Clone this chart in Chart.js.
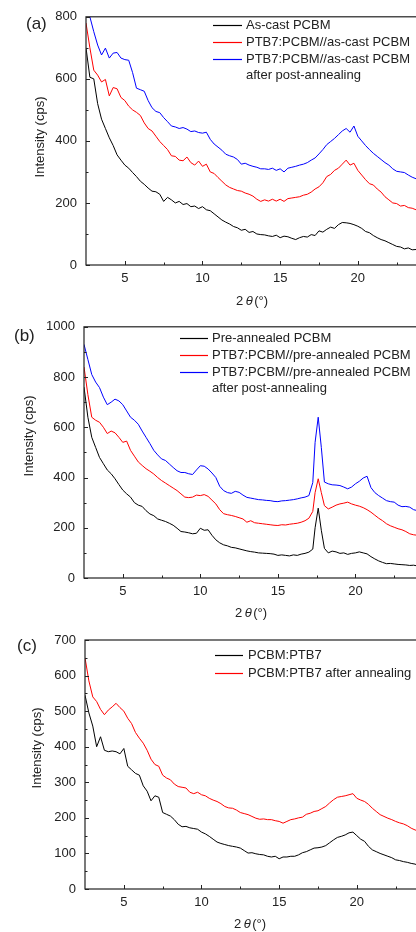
<!DOCTYPE html>
<html>
<head>
<meta charset="utf-8">
<script src="https://cdn.jsdelivr.net/npm/chart.js@4.4.0/dist/chart.umd.min.js"></script>
<style>
  html, body { margin: 0; padding: 0; background: #fff; width: 416px; height: 932px; overflow: hidden; }
  canvas { position: absolute; left: 0; }
</style>
</head>
<body>
<canvas id="ca" width="460" height="310" style="top:0px"></canvas>
<canvas id="cb" width="460" height="310" style="top:310px"></canvas>
<canvas id="cc" width="460" height="312" style="top:620px"></canvas>
<script>
// 2theta grid (deg) for panels a and c
const twoTheta = [2.5, 2.75,
  3, 3.25, 3.5, 3.75, 4, 4.25, 4.5, 4.75, 5, 5.25, 5.5, 5.75, 6, 6.25, 6.5, 6.75,
  7, 7.25, 7.5, 7.75, 8, 8.25, 8.5, 8.75, 9, 9.25, 9.5, 9.75, 10, 10.25, 10.5, 10.75,
  11, 11.25, 11.5, 11.75, 12, 12.25, 12.5, 12.75, 13, 13.25, 13.5, 13.75, 14, 14.25, 14.5, 14.75,
  15, 15.25, 15.5, 15.75, 16, 16.25, 16.5, 16.75, 17, 17.25, 17.5, 17.75, 18, 18.25, 18.5, 18.75,
  19, 19.25, 19.5, 19.75, 20, 20.25, 20.5, 20.75, 21, 21.25, 21.5, 21.75, 22, 22.25, 22.5, 22.75,
  23, 23.25, 23.5, 23.75, 24];

// panel b has a sharp peak near 17.6, so a few more points there
const twoThetaB = [2.5, 2.75,
  3, 3.25, 3.5, 3.75, 4, 4.25, 4.5, 4.75, 5, 5.25, 5.5, 5.75, 6, 6.25, 6.5, 6.75,
  7, 7.25, 7.5, 7.75, 8, 8.25, 8.5, 8.75, 9, 9.25, 9.5, 9.75, 10, 10.25, 10.5, 10.75,
  11, 11.25, 11.5, 11.75, 12, 12.25, 12.5, 12.75, 13, 13.25, 13.5, 13.75, 14, 14.25, 14.5, 14.75,
  15, 15.25, 15.5, 15.75, 16, 16.25, 16.5, 16.75, 17, 17.25, 17.4, 17.6, 17.8,
  18, 18.25, 18.5, 18.75, 19, 19.25, 19.5, 19.75, 20, 20.25, 20.5, 20.75,
  21, 21.25, 21.5, 21.75, 22, 22.25, 22.5, 22.75, 23, 23.25, 23.5, 23.75, 24];

// (a)
const asCastPCBM = [700, 605,
  600, 520, 470, 440,  410, 385, 355, 338,  322, 312, 298, 285,  270, 260, 248, 238,
  236, 228, 205, 218,  210, 200, 205, 195,  198, 188, 190, 182,  188, 178, 175, 165,
  155, 145, 138, 132,  124, 120, 112, 115,  105, 108, 100, 98,   97, 94, 92, 96,
  88, 93, 91, 86,      82, 88, 92, 90,      98, 95, 110, 106,    115, 122, 118, 130,
  137, 136, 134, 130,  125, 118, 108, 104,  95, 88, 82, 78,     72, 66, 60, 58,
  52, 55, 49, 50,  46];
const bilayerAsCast = [780, 700,
  628, 612, 590, 598,  545, 572, 568, 540,  530, 512, 500, 492,  482, 458, 440, 432,
  415, 398, 385, 372,  352, 350, 338, 336,  348, 330, 322, 335,  318, 325, 300, 295,
  282, 270, 258, 250,  245, 240, 238, 232,  228, 222, 212, 205,  210, 206, 212, 206,
  212, 205, 214, 216,  218, 220, 225, 228,  235, 245, 252, 265,  285, 292, 305, 312,
  325, 338, 322, 328,  305, 290, 275, 262,  258, 245, 235, 220,  210, 200, 198, 190,
  192, 185, 183, 178,  178];
const bilayerAsCastAnnealed = [860, 800,
  752, 709, 677, 699,  667, 683, 685, 667,  662, 660, 620, 570,  565, 560, 530, 507,
  495, 491, 475, 462,  448, 445, 440, 443,  438, 430, 432, 427,  425, 428, 405, 390,
  380, 370, 357, 352,  348, 340, 325, 328,  322, 318, 315, 310,  310, 308, 312, 305,
  310, 300, 312, 315,  318, 322, 325, 330,  338, 345, 358, 372,  388, 398, 408, 420,
  432, 440, 428, 448,  415, 400, 385, 372,  360, 350, 340, 330,  322, 310, 302, 300,
  298, 290, 283, 278,  272];

// (b)
const preAnnealedPCBM = [760, 640,
  560, 520, 480, 455,  430, 415, 395, 372,  350, 335, 322, 300,  290, 285, 268, 255,
  248, 235, 230, 225,  218, 210, 198, 185,  183, 180, 176, 178,  198, 190, 192, 170,
  152, 140, 132, 128,  122, 120, 116, 112,  108, 105, 103, 100,  99, 98, 97, 95,
  90, 92, 90, 88,      92, 90, 95, 98,      103, 115, 200, 278, 190,
  118, 100, 107, 104,  98, 100, 94, 98,     100, 104, 100, 96,
  85, 76, 68, 62,      57, 58, 56, 54,      53, 52, 50, 51,  48];
const bilayerPre = [840, 730,
  640, 628, 620, 600,  575, 585, 578, 560,  540, 545, 508, 485,  462, 448, 435, 425,
  414, 400, 388, 378,  368, 358, 348, 335,  322, 320, 322, 330,  328, 332, 325, 310,
  295, 272, 256, 252,  249, 245, 240, 235,  222, 228, 220, 218,  216, 214, 212, 210,
  209, 212, 211, 214,  216, 218, 222, 228,  238, 265, 340, 395, 340,
  288, 275, 282, 290,  295, 298, 302, 295,  290, 286, 280, 272,
  262, 250, 238, 228,  216, 208, 202, 196,  192, 185, 176, 172,  170];
const bilayerPreAnnealed = [930, 870,
  810, 780, 758, 720,  690, 700, 712, 705,  690, 665, 640, 628,  612, 585, 560, 535,
  508, 490, 474, 468,  454, 440, 427, 420,  420, 415, 412, 430,  447, 445, 434, 418,
  400, 365, 348, 340,  337, 345, 341, 330,  321, 318, 315, 312,  311, 309, 308, 305,
  304, 307, 308, 310,  312, 315, 319, 322,  328, 380, 540, 640, 520,
  382, 375, 371, 370,  368, 362, 355, 362,  375, 385, 398, 405,
  360, 340, 328, 318,  308, 304, 302, 290,  284, 285, 282, 272,  268];

// (c)
const blend = [545, 495,
  458, 400, 428, 390,  386, 388, 386, 380,  395, 345, 335, 325,  320, 290, 275, 248,
  262, 258, 215, 210,  205, 195, 182, 175,  176, 172, 170, 168,  160, 155, 148, 140,
  132, 128, 125, 122,  120, 118, 115, 108,  101, 102, 99, 97,    96, 92, 90, 92,
  85, 90, 90, 92,      92, 96, 102, 105,    110, 115, 116, 118,  122, 130, 138, 145,
  148, 152, 158, 160,  150, 140, 134, 120,  110, 105, 100, 96,   92, 88, 82, 80,
  77, 75, 72, 70,  65];
const blendAnnealed = [650, 585,
  540, 527, 505, 490,  503, 512, 522, 510,  500, 480, 465, 440,  424, 410, 390, 365,
  350, 345, 320, 312,  307, 295, 288, 286,  284, 272, 268, 272,  265, 262, 255, 250,
  246, 240, 232, 228,  227, 222, 215, 212,  209, 204, 199, 196,  197, 195, 195, 192,
  190, 185, 190, 195,  197, 200, 202, 210,  213, 218, 220, 226,  232, 242, 251, 258,
  260, 262, 265, 268,  255, 250, 246, 238,  227, 218, 209, 204,  199, 195, 190, 186,
  183, 178, 171, 166,  162];

const xTicks = [5, 10, 15, 20, 25];
const xMinor = [7.5, 12.5, 17.5, 22.5];
const yTicksA = [0, 200, 400, 600, 800];
const yMinorA = [100, 300, 500, 700];
const yTicksB = [0, 200, 400, 600, 800, 1000];
const yMinorB = [100, 300, 500, 700, 900];
const yTicksC = [0, 100, 200, 300, 400, 500, 600, 700];
const yMinorC = [50, 150, 250, 350, 450, 550, 650];

const FONT = '"Liberation Sans", Arial, Helvetica, sans-serif';
const INK = '#222';

function pts(xs, ys) {
  return xs.map((x, i) => ({ x: x, y: ys[i] }));
}

// frame, inward ticks, titles, legend, panel letter
const decor = {
  id: 'decor',
  afterDraw(chart, args, o) {
    const { ctx, chartArea: a, scales } = chart;
    const x = scales.x, y = scales.y;
    ctx.save();
    ctx.strokeStyle = INK;
    ctx.lineWidth = 1.2;
    ctx.strokeRect(a.left, a.top, a.right - a.left, a.bottom - a.top);

    ctx.lineWidth = 1;
    ctx.beginPath();
    xTicks.forEach(v => { const p = Math.round(x.getPixelForValue(v)) + 0.5; ctx.moveTo(p, a.bottom); ctx.lineTo(p, a.bottom - 4); });
    xMinor.forEach(v => { const p = Math.round(x.getPixelForValue(v)) + 0.5; ctx.moveTo(p, a.bottom); ctx.lineTo(p, a.bottom - 2.5); });
    o.yMajor.forEach(v => { const p = Math.round(y.getPixelForValue(v)) + 0.5; ctx.moveTo(a.left, p); ctx.lineTo(a.left + 4, p); });
    o.yMinor.forEach(v => { const p = Math.round(y.getPixelForValue(v)) + 0.5; ctx.moveTo(a.left, p); ctx.lineTo(a.left + 2.5, p); });
    ctx.stroke();

    ctx.fillStyle = INK;
    ctx.textBaseline = 'middle';

    // y title
    ctx.font = '13px ' + FONT;
    ctx.save();
    ctx.translate(o.yTitle[0], o.yTitle[1]);
    ctx.rotate(-Math.PI / 2);
    ctx.textAlign = 'center';
    ctx.fillText('Intensity (cps)', 0, 0);
    ctx.restore();

    // x title: 2θ(°) with italic theta
    ctx.textAlign = 'left';
    const nf = '13px ' + FONT, itf = 'italic 13px ' + FONT;
    ctx.font = nf; const w1 = ctx.measureText('2').width;
    ctx.font = itf; const w2 = ctx.measureText('θ').width;
    ctx.font = nf; const w3 = ctx.measureText('(°)').width;
    let tx = o.xTitle[0] - (w1 + w2 + w3 + 4) / 2;
    ctx.fillText('2', tx, o.xTitle[1]); tx += w1 + 2.5;
    ctx.font = itf; ctx.fillText('θ', tx, o.xTitle[1]); tx += w2 + 1.5;
    ctx.font = nf; ctx.fillText('(°)', tx, o.xTitle[1]);

    // legend
    ctx.font = '13px ' + FONT;
    let ly = o.legend.y;
    chart.data.datasets.forEach(ds => {
      ds.label.split('\n').forEach((line, k) => {
        if (k === 0) {
          ctx.strokeStyle = ds.borderColor;
          ctx.lineWidth = 1.2;
          ctx.beginPath();
          ctx.moveTo(o.legend.x0, Math.round(ly) + 0.5);
          ctx.lineTo(o.legend.x1, Math.round(ly) + 0.5);
          ctx.stroke();
        }
        ctx.fillStyle = INK;
        ctx.fillText(line, o.legend.tx, ly + 0.5);
        ly += o.legend.dy;
      });
    });

    // panel letter
    ctx.font = '17px ' + FONT;
    ctx.fillText(o.letter[0], o.letter[1], o.letter[2]);
    ctx.restore();
  }
};

function makePanel(id, cfg) {
  const canvas = document.getElementById(id);
  return new Chart(canvas, {
    type: 'line',
    data: {
      datasets: cfg.series.map(s => ({
        label: s.label,
        data: pts(cfg.xs, s.data),
        borderColor: s.color,
        borderWidth: 1,
        pointRadius: 0,
        tension: 0,
        fill: false
      }))
    },
    options: {
      responsive: false,
      animation: false,
      devicePixelRatio: 1,
      layout: { padding: { top: cfg.top, right: canvas.width - cfg.right, left: 0, bottom: 0 } },
      plugins: {
        legend: { display: false },
        tooltip: { enabled: false },
        decor: cfg.decor
      },
      scales: {
        x: {
          type: 'linear',
          min: 2.5,
          max: 26,
          afterBuildTicks: sc => { sc.ticks = xTicks.map(v => ({ value: v })); },
          afterFit: sc => { sc.height = cfg.xHeight; },
          grid: { display: false, drawTicks: false },
          border: { display: false },
          ticks: { color: INK, font: { size: 13, family: FONT }, padding: 6, maxRotation: 0, autoSkip: false,
                   callback: v => String(v) }
        },
        y: {
          min: 0,
          max: cfg.yMax,
          afterBuildTicks: sc => { sc.ticks = cfg.yTicks.map(v => ({ value: v })); },
          afterFit: sc => { sc.width = cfg.yWidth; },
          grid: { display: false, drawTicks: false },
          border: { display: false },
          ticks: { color: INK, font: { size: 13, family: FONT }, padding: 9, callback: v => String(v) }
        }
      }
    },
    plugins: [decor]
  });
}

makePanel('ca', {
  xs: twoTheta, top: 15, right: 451, yWidth: 86, xHeight: 45, yMax: 800, yTicks: yTicksA,
  series: [
    { label: 'As-cast PCBM', data: asCastPCBM, color: '#000000' },
    { label: 'PTB7:PCBM//as-cast PCBM', data: bilayerAsCast, color: '#ff0000' },
    { label: 'PTB7:PCBM//as-cast PCBM\nafter post-annealing', data: bilayerAsCastAnnealed, color: '#0000ff' }
  ],
  decor: {
    yMajor: yTicksA, yMinor: yMinorA, yTitle: [40, 137], xTitle: [252, 301],
    legend: { x0: 213, x1: 242, tx: 246, y: 25, dy: 16.8 }, letter: ['(a)', 26, 24]
  }
});

makePanel('cb', {
  xs: twoThetaB, top: 16, right: 448.5, yWidth: 84, xHeight: 42, yMax: 1000, yTicks: yTicksB,
  series: [
    { label: 'Pre-annealed PCBM', data: preAnnealedPCBM, color: '#000000' },
    { label: 'PTB7:PCBM//pre-annealed PCBM', data: bilayerPre, color: '#ff0000' },
    { label: 'PTB7:PCBM//pre-annealed PCBM\nafter post-annealing', data: bilayerPreAnnealed, color: '#0000ff' }
  ],
  decor: {
    yMajor: yTicksB, yMinor: yMinorB, yTitle: [29, 126], xTitle: [251, 303],
    legend: { x0: 180, x1: 208, tx: 212, y: 28.3, dy: 16.7 }, letter: ['(b)', 14, 26]
  }
});

makePanel('cc', {
  xs: twoTheta, top: 20, right: 450, yWidth: 85, xHeight: 43, yMax: 700, yTicks: yTicksC,
  series: [
    { label: 'PCBM:PTB7', data: blend, color: '#000000' },
    { label: 'PCBM:PTB7 after annealing', data: blendAnnealed, color: '#ff0000' }
  ],
  decor: {
    yMajor: yTicksC, yMinor: yMinorC, yTitle: [37.5, 128], xTitle: [250, 304],
    legend: { x0: 215, x1: 243, tx: 248, y: 35, dy: 17.7 }, letter: ['(c)', 17, 26]
  }
});
</script>
</body>
</html>
